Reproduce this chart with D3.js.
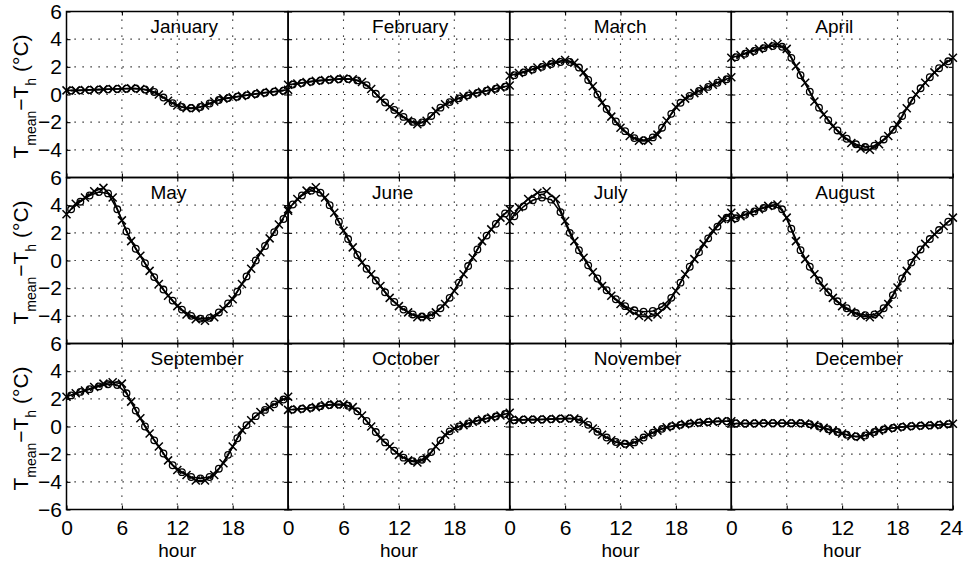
<!DOCTYPE html>
<html>
<head>
<meta charset="utf-8">
<script src="https://cdn.jsdelivr.net/npm/d3@7"></script>
<style>
  body { margin: 0; background: #fff; }
  svg { display: block; }
  text { font-family: "Liberation Sans", Arial, Helvetica, sans-serif; fill: #000; }
</style>
</head>
<body>
<svg id="chart" width="964" height="563"></svg>
<script>
// Month panels, left to right, top to bottom
const monthNames = ["January", "February", "March", "April", "May", "June",
  "July", "August", "September", "October", "November", "December"];

// Series drawn with "x" markers: full hours 0..24
const hoursX = d3.range(0, 25);
// Series drawn with "o" markers: half hours 0.5..23.5
const hoursO = d3.range(0.5, 24, 1);

// T_mean - T_h (°C)
const janX = [0.30,0.30,0.32,0.35,0.37,0.40,0.42,0.45,0.40,0.30,0.00,-0.45,-0.80,-1.00,-1.00,-0.80,-0.50,-0.30,-0.20,-0.10,0.00,0.10,0.18,0.25,0.35];
const janO = [0.28,0.30,0.33,0.35,0.38,0.40,0.42,0.43,0.36,0.18,-0.22,-0.62,-0.90,-0.98,-0.90,-0.65,-0.40,-0.26,-0.16,-0.06,0.04,0.13,0.20,0.28];
const febX = [0.70,0.80,0.90,1.00,1.05,1.10,1.15,1.10,0.90,0.40,-0.30,-0.90,-1.40,-1.90,-2.15,-1.90,-1.20,-0.70,-0.40,-0.15,0.05,0.20,0.35,0.50,0.65];
const febO = [0.72,0.83,0.92,1.00,1.06,1.10,1.12,1.02,0.68,0.05,-0.58,-1.12,-1.62,-1.98,-2.02,-1.55,-0.95,-0.55,-0.28,-0.06,0.12,0.27,0.42,0.56];
const marX = [1.35,1.55,1.75,1.95,2.15,2.35,2.50,2.30,1.60,0.60,-0.60,-1.60,-2.40,-3.00,-3.35,-3.35,-2.90,-1.90,-0.90,-0.30,0.10,0.40,0.70,1.00,1.25];
const marO = [1.40,1.60,1.80,2.00,2.20,2.35,2.35,1.95,1.05,0.00,-1.05,-1.95,-2.65,-3.15,-3.30,-3.10,-2.40,-1.40,-0.60,-0.10,0.25,0.55,0.85,1.10];
const aprX = [2.65,2.85,3.10,3.30,3.50,3.65,3.30,2.05,0.85,-0.50,-1.45,-2.30,-3.00,-3.50,-3.90,-4.00,-3.60,-3.00,-2.20,-1.00,0.00,0.85,1.60,2.20,2.65];
const aprO = [2.70,2.95,3.15,3.35,3.50,3.45,2.65,1.40,0.20,-0.95,-1.85,-2.60,-3.20,-3.60,-3.80,-3.70,-3.25,-2.55,-1.55,-0.45,0.45,1.25,1.90,2.40];
const mayX = [3.35,4.10,4.55,5.00,5.25,4.55,2.90,1.40,0.35,-0.75,-1.70,-2.55,-3.30,-3.90,-4.25,-4.35,-4.10,-3.50,-2.80,-1.70,-0.60,0.60,1.60,2.60,3.60];
const mayO = [3.70,4.25,4.70,4.95,4.85,3.70,2.10,0.85,-0.20,-1.20,-2.10,-2.90,-3.55,-4.00,-4.20,-4.15,-3.75,-3.10,-2.25,-1.15,0.00,1.05,2.05,3.00];
const junX = [3.70,4.45,5.05,5.30,4.55,3.45,2.15,0.95,-0.15,-1.00,-1.85,-2.70,-3.30,-3.75,-4.10,-4.10,-3.75,-3.15,-2.20,-1.00,0.20,1.40,2.25,3.10,3.70];
const junO = [4.05,4.70,5.05,4.90,4.00,2.80,1.55,0.40,-0.60,-1.45,-2.30,-3.00,-3.55,-3.90,-4.05,-3.95,-3.45,-2.70,-1.60,-0.40,0.80,1.80,2.65,3.40];
const julX = [2.85,3.85,4.45,4.90,5.00,4.45,2.85,1.40,0.20,-0.85,-1.85,-2.55,-3.15,-3.65,-4.00,-4.10,-3.90,-3.30,-2.20,-1.00,0.10,1.20,2.15,3.00,3.45];
const julO = [3.20,3.90,4.35,4.55,4.40,3.50,2.00,0.75,-0.35,-1.30,-2.15,-2.80,-3.30,-3.60,-3.70,-3.65,-3.35,-2.70,-1.60,-0.45,0.60,1.60,2.45,3.10];
const augX = [3.00,3.20,3.45,3.70,3.95,4.05,3.10,1.40,0.10,-1.00,-1.95,-2.70,-3.30,-3.70,-4.00,-4.10,-3.90,-3.15,-1.95,-0.75,0.35,1.20,1.90,2.50,3.10];
const augO = [3.05,3.30,3.55,3.80,3.95,3.70,2.30,0.75,-0.45,-1.45,-2.30,-2.95,-3.45,-3.80,-3.95,-3.90,-3.45,-2.50,-1.30,-0.15,0.80,1.55,2.20,2.80];
const sepX = [2.15,2.40,2.60,2.85,3.10,3.20,3.10,1.80,0.60,-0.50,-1.45,-2.45,-3.15,-3.50,-3.90,-3.90,-3.50,-2.65,-1.45,-0.25,0.45,1.05,1.40,1.80,2.15];
const sepO = [2.25,2.50,2.70,2.90,3.05,3.00,2.40,1.15,0.00,-1.00,-1.95,-2.80,-3.30,-3.65,-3.75,-3.65,-3.05,-2.05,-0.85,0.10,0.75,1.20,1.60,1.95];
const octX = [1.20,1.25,1.30,1.40,1.55,1.60,1.60,1.40,0.80,0.00,-0.85,-1.45,-2.05,-2.45,-2.60,-2.30,-1.45,-0.60,-0.15,0.10,0.35,0.50,0.65,0.80,1.00];
const octO = [1.22,1.28,1.35,1.47,1.55,1.58,1.50,1.10,0.40,-0.40,-1.15,-1.75,-2.25,-2.50,-2.40,-1.85,-1.00,-0.35,0.00,0.22,0.42,0.58,0.72,0.90];
const novX = [0.45,0.48,0.50,0.50,0.52,0.55,0.58,0.58,0.35,-0.15,-0.60,-1.00,-1.25,-1.30,-1.00,-0.60,-0.30,-0.05,0.07,0.17,0.25,0.30,0.35,0.38,0.38];
const novO = [0.46,0.49,0.50,0.51,0.53,0.56,0.58,0.50,0.12,-0.38,-0.80,-1.12,-1.25,-1.15,-0.80,-0.45,-0.17,0.02,0.12,0.21,0.28,0.33,0.37,0.38];
const decX = [0.22,0.22,0.22,0.23,0.23,0.24,0.24,0.24,0.22,0.10,-0.10,-0.30,-0.50,-0.70,-0.75,-0.50,-0.30,-0.15,-0.07,0.00,0.03,0.07,0.10,0.15,0.20];
const decO = [0.22,0.22,0.22,0.23,0.24,0.24,0.24,0.23,0.17,0.00,-0.20,-0.40,-0.60,-0.72,-0.65,-0.40,-0.22,-0.11,-0.03,0.02,0.05,0.08,0.12,0.17];

const seriesX = [janX, febX, marX, aprX, mayX, junX, julX, augX, sepX, octX, novX, decX];
const seriesO = [janO, febO, marO, aprO, mayO, junO, julO, augO, sepO, octO, novO, decO];

// Axis ticks
const yTicksUpper = [6, 4, 2, 0, -2, -4];
const yTicksLower = [6, 4, 2, 0, -2, -4, -6];
const yGrid = [-4, -2, 0, 2, 4];
const xTicks = [0, 6, 12, 18];
const xTicksLast = [0, 6, 12, 18, 24];
const xGrid = [6, 12, 18];

// Panel grid geometry
const panelLeft = 66.5, panelTop = 11.5, colW = 221.6, rowH = 166;
const nCols = 4;

const svg = d3.select("#chart");
const fmt = v => v < 0 ? "\u2212" + Math.abs(v) : String(v);

function styleAxis(sel, size) {
  sel.attr("font-family", null).attr("font-size", size);
  sel.select(".domain").remove();
  sel.selectAll(".tick line").attr("stroke", "#000").attr("stroke-width", 1.1);
}

const panels = monthNames.map((name, i) => {
  const r = Math.floor(i / nCols), c = i % nCols;
  const x = d3.scaleLinear().domain([0, 24]).range([panelLeft + c * colW, panelLeft + (c + 1) * colW]);
  const y = d3.scaleLinear().domain([-6, 6]).range([panelTop + (r + 1) * rowH, panelTop + r * rowH]);
  return { name, r, c, x, y, xs: seriesX[i], os: seriesO[i] };
});

const frames = svg.append("g");

panels.forEach(p => {
  const { x, y, r, c } = p;
  const g = frames.append("g");

  // dotted grid
  g.selectAll(".gy").data(yGrid).join("line")
    .attr("x1", x(0)).attr("x2", x(24))
    .attr("y1", d => y(d)).attr("y2", d => y(d))
    .attr("stroke", "#000").attr("stroke-width", 1.1)
    .attr("stroke-dasharray", "1.2,6.8");
  g.selectAll(".gx").data(xGrid).join("line")
    .attr("x1", d => x(d)).attr("x2", d => x(d))
    .attr("y1", y(6)).attr("y2", y(-6))
    .attr("stroke", "#000").attr("stroke-width", 1.1)
    .attr("stroke-dasharray", "1.2,6.8");

  // inward tick marks on all sides, labels on the outer edges
  const yVals = r === 2 ? yTicksLower : yTicksUpper;
  g.append("g").attr("transform", `translate(${x(0)},0)`)
    .call(d3.axisLeft(y).tickValues(yVals).tickSize(-4).tickPadding(4.5)
      .tickFormat(c === 0 ? fmt : ""))
    .call(s => styleAxis(s, 21));
  g.append("g").attr("transform", `translate(${x(24)},0)`)
    .call(d3.axisRight(y).tickValues(yVals).tickSize(-4).tickFormat(""))
    .call(s => styleAxis(s, 21));
  g.append("g").attr("transform", `translate(0,${y(6)})`)
    .call(d3.axisTop(x).tickValues(xGrid).tickSize(-4).tickFormat(""))
    .call(s => styleAxis(s, 21));
  const bottomAxis = g.append("g").attr("transform", `translate(0,${y(-6)})`)
    .call(d3.axisBottom(x).tickValues(c === 3 ? xTicksLast : xTicks).tickSize(-4).tickPadding(11)
      .tickFormat(r === 2 ? fmt : ""))
    .call(s => styleAxis(s, 21));
  bottomAxis.selectAll(".tick text").filter(d => d === 24).attr("dx", -2);

  // frame
  g.append("rect")
    .attr("x", x(0)).attr("y", y(6))
    .attr("width", x(24) - x(0)).attr("height", y(-6) - y(6))
    .attr("fill", "none").attr("stroke", "#000").attr("stroke-width", 1.5);

  // month title
  g.append("text")
    .attr("x", x(9.1)).attr("y", y(6) + 21)
    .attr("font-size", 19)
    .text(p.name);

  // x-axis caption under bottom row
  if (r === 2) {
    g.append("text")
      .attr("x", x(12)).attr("y", 557)
      .attr("text-anchor", "middle").attr("font-size", 19)
      .text("hour");
  }
});

// y-axis caption, one per row
[0, 1, 2].forEach(r => {
  const cy = panelTop + r * rowH + rowH / 2 + 2;
  const t = svg.append("text")
    .attr("transform", `translate(28,${cy}) rotate(-90)`)
    .attr("text-anchor", "middle").attr("font-size", 21);
  t.append("tspan").text("T");
  t.append("tspan").attr("font-size", 14).attr("dy", 8).text("mean");
  t.append("tspan").attr("dy", -8).text("\u2212T");
  t.append("tspan").attr("font-size", 14).attr("dy", 8).text("h");
  t.append("tspan").attr("dy", -8).text(" (\u00B0C)");
});

// curves and markers
const curves = svg.append("g");
panels.forEach(p => {
  const { x, y } = p;
  const line = d3.line().x(d => x(d[0])).y(d => y(d[1]));
  const ptsX = hoursX.map((h, k) => [h, p.xs[k]]);
  const ptsO = hoursO.map((h, k) => [h, p.os[k]]);
  const g = curves.append("g");

  g.append("path").attr("d", line(ptsO))
    .attr("fill", "none").attr("stroke", "#000").attr("stroke-width", 1.6);
  g.append("path").attr("d", line(ptsX))
    .attr("fill", "none").attr("stroke", "#000").attr("stroke-width", 1.6);

  g.selectAll("circle").data(ptsO).join("circle")
    .attr("cx", d => x(d[0])).attr("cy", d => y(d[1])).attr("r", 3.3)
    .attr("fill", "none").attr("stroke", "#000").attr("stroke-width", 1.3);

  const s = 4;
  g.selectAll(".mx").data(ptsX).join("path")
    .attr("d", d => {
      const cx = x(d[0]), cy = y(d[1]);
      return `M${cx - s},${cy - s}L${cx + s},${cy + s}M${cx - s},${cy + s}L${cx + s},${cy - s}`;
    })
    .attr("fill", "none").attr("stroke", "#000").attr("stroke-width", 1.5);
});
</script>
</body>
</html>
